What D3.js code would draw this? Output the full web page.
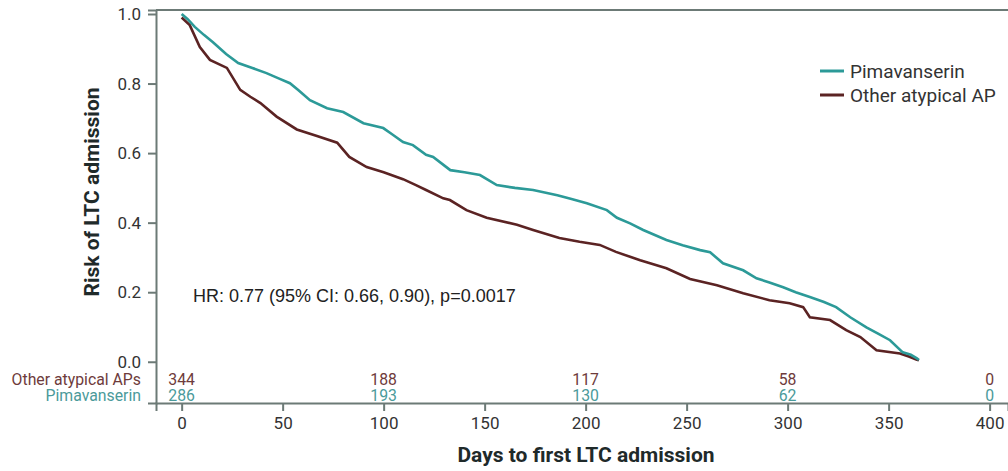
<!DOCTYPE html>
<html><head><meta charset="utf-8">
<script src="https://cdn.jsdelivr.net/npm/d3@7"></script>
<style>body{margin:0;background:#fff;} svg{display:block;font-family:Roboto, "Noto Sans", sans-serif;}</style>
</head><body>
<svg id="c" width="1008" height="471"></svg>
<script>
const seriesNames = ["Pimavanserin", "Other atypical AP"];
const atRiskLabels = ["Other atypical APs", "Pimavanserin"];
const atRiskDays = [0, 100, 200, 300, 400];
const atRiskOther = [344, 188, 117, 58, 0];
const atRiskPima = [286, 193, 130, 62, 0];
const xTicks = [0, 50, 100, 150, 200, 250, 300, 350, 400];
const yTicks = [0, 0.2, 0.4, 0.6, 0.8, 1.0];
const pimaDays = [0, 3, 6.5, 11, 15.5, 22, 28, 35, 42, 48, 53.6, 58, 63.5, 72, 80, 90, 99.8, 104, 109.6, 114.5, 121, 124.5, 133, 140, 147.7, 156, 165, 174, 186, 193, 200.6, 210.5, 215.5, 222, 228.5, 240, 248, 256.7, 261.6, 268, 278, 284.6, 291, 297.8, 304, 311, 318, 324, 331, 339, 345, 350.7, 357, 361, 364, 365];
const pimaRisk = [1.0, 0.985, 0.963, 0.94, 0.919, 0.885, 0.859, 0.845, 0.83, 0.815, 0.801, 0.78, 0.752, 0.729, 0.718, 0.686, 0.672, 0.655, 0.632, 0.623, 0.595, 0.589, 0.551, 0.545, 0.537, 0.508, 0.5, 0.494, 0.479, 0.468, 0.456, 0.436, 0.414, 0.398, 0.379, 0.35, 0.335, 0.321, 0.315, 0.283, 0.263, 0.24, 0.228, 0.214, 0.2, 0.186, 0.172, 0.157, 0.128, 0.099, 0.08, 0.062, 0.027, 0.02, 0.01, 0.005];
const otherDays = [0, 4, 9, 14, 22.4, 29, 34, 39, 47, 57, 67, 77, 83, 91.6, 100, 109.6, 116, 121, 129.5, 132.8, 141, 151, 166, 174, 187, 197, 207, 215, 227, 240, 251.7, 265, 278, 291, 301, 307.7, 311, 321, 329, 336, 344, 355.6, 360, 364, 365];
const otherRisk = [0.99, 0.968, 0.905, 0.868, 0.845, 0.782, 0.762, 0.744, 0.705, 0.668, 0.649, 0.63, 0.589, 0.56, 0.545, 0.525, 0.508, 0.494, 0.47, 0.465, 0.436, 0.414, 0.394, 0.379, 0.356, 0.345, 0.336, 0.316, 0.292, 0.269, 0.238, 0.22, 0.197, 0.177, 0.168, 0.157, 0.128, 0.12, 0.091, 0.071, 0.033, 0.024, 0.015, 0.006, 0.004];
const hrText = "HR: 0.77 (95% CI: 0.66, 0.90), p=0.0017";
const xTitle = "Days to first LTC admission";
const yTitle = "Risk of LTC admission";

const teal = "#2c9a98", brown = "#5b2323";
const tealText = "#4b9a9a", brownText = "#6e3b3b";
const axisCol = "#6c7a76", textCol = "#333";

const svg = d3.select("#c");
const x = d3.scaleLinear().domain([-12.7, 409.1]).range([156, 1008]);
const y = d3.scaleLinear().domain([-0.1186, 1.0115]).range([403, 10]);

// top border
svg.append("line").attr("x1", 156).attr("x2", 1008).attr("y1", y.range()[1]).attr("y2", y.range()[1])
  .attr("stroke", axisCol).attr("stroke-width", 2);

const gy = svg.append("g").attr("transform", "translate(156,0)")
  .call(d3.axisLeft(y).tickValues(yTicks).tickFormat(d3.format(".1f")).tickSizeOuter(0).tickSize(8).tickPadding(7));
const gx = svg.append("g").attr("transform", "translate(0,403)")
  .call(d3.axisBottom(x).tickValues(xTicks).tickSizeOuter(0).tickSize(8).tickPadding(6));
[gx, gy].forEach(g => {
  g.select(".domain").attr("stroke", axisCol).attr("stroke-width", 2);
  g.selectAll(".tick line").attr("stroke", axisCol).attr("stroke-width", 2);
  g.selectAll(".tick text").attr("fill", textCol).attr("font-size", 17).attr("font-family", "Roboto");
});

const line = d3.line().x(d => x(d[0])).y(d => y(d[1])).curve(d3.curveLinear);
svg.append("path").datum(otherDays.map((d, i) => [d, otherRisk[i]]))
  .attr("d", line).attr("fill", "none").attr("stroke", brown).attr("stroke-width", 2.6);
svg.append("path").datum(pimaDays.map((d, i) => [d, pimaRisk[i]]))
  .attr("d", line).attr("fill", "none").attr("stroke", teal).attr("stroke-width", 2.6);

// at risk table
const rowY = [385, 401];
const rows = [[atRiskOther, brownText], [atRiskPima, tealText]];
rows.forEach((r, k) => {
  svg.append("text").attr("x", 141).attr("y", rowY[k]).attr("text-anchor", "end")
    .attr("font-size", 15.8).attr("fill", r[1]).text(atRiskLabels[k]);
  svg.selectAll(null).data(atRiskDays).enter().append("text")
    .attr("x", d => x(d)).attr("y", rowY[k]).attr("text-anchor", "middle")
    .attr("font-size", 15.8).attr("fill", r[1]).text((d, i) => r[0][i]);
});

// HR text
svg.append("text").attr("x", 193).attr("y", 302).attr("font-size", 18)
  .attr("font-family", "Liberation Sans, Arial, sans-serif").attr("fill", "#222").text(hrText);

// legend
const legY = [71, 95];
[teal, brown].forEach((c, i) => {
  svg.append("line").attr("x1", 820).attr("x2", 844).attr("y1", legY[i]).attr("y2", legY[i])
    .attr("stroke", c).attr("stroke-width", 3);
  svg.append("text").attr("x", 850).attr("y", legY[i]).attr("dy", "0.35em")
    .attr("font-size", 19).attr("fill", textCol).text(seriesNames[i]);
});

// titles
svg.append("text").attr("x", 586).attr("y", 462).attr("text-anchor", "middle")
  .attr("font-size", 21).attr("font-weight", "bold").attr("fill", "#1f2a2a").text(xTitle);
svg.append("text").attr("transform", "translate(99,192) rotate(-90)").attr("text-anchor", "middle")
  .attr("font-size", 21).attr("font-weight", "bold").attr("fill", "#1f2a2a").text(yTitle);
</script>
</body></html>
